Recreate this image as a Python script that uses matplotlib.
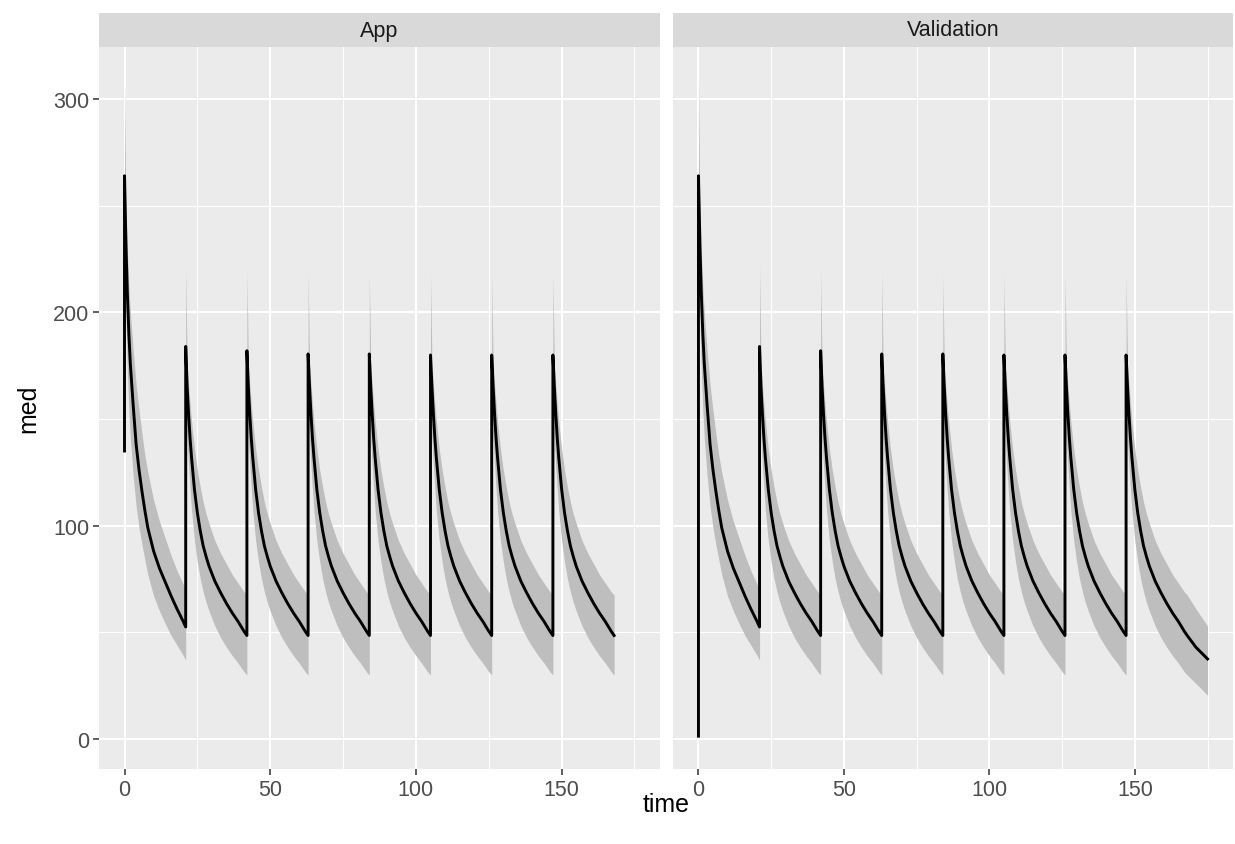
import matplotlib.pyplot as plt
from matplotlib.ticker import MultipleLocator

plt.rcParams['font.family'] = ['Liberation Sans', 'DejaVu Sans']

panels = ["App", "Validation"]

# hours after each dose at which the profile was read
tau = [0, 0.5, 1, 1.5, 2, 3, 4, 5, 6, 7, 8, 10, 12, 14, 16, 18, 20, 21]

# first dose (t = 0 .. 21)
med_first = [264, 232, 208, 190, 176, 156, 138, 126, 116, 107, 99, 88, 80, 73.5, 67, 61, 55.5, 52.5]
lo_first = [240, 200, 172, 154, 141, 123, 109, 99, 91, 84, 77, 67, 60, 54, 48.5, 44, 39.5, 37]
hi_first = [309, 250, 228, 212, 200, 182, 166, 154, 143, 133, 125, 112, 102, 94, 86, 79, 73, 70]

# later doses (same shape, peak replaced per dose)
med_later = [180, 165, 152, 141, 132, 117, 106, 97.5, 90.5, 85.5, 81, 74, 68.5, 63.5, 59, 55, 50.5, 48.5]
lo_later = [150, 140, 128, 117, 107, 93, 83, 75, 69, 64, 60, 53, 47.5, 43, 39, 35.5, 31.5, 30]
hi_later = [219, 176, 166, 157, 149, 136, 126, 118, 111, 105.5, 101, 93, 87, 82, 77, 73, 69, 67.5]

dose_times = [21, 42, 63, 84, 105, 126, 147]
peak_med = [184, 182, 180.5, 180.5, 180, 180, 180]
peak_hi = [222, 220, 219, 218, 218, 218, 218]

# value before the first dose
pre_dose = {"App": 135, "Validation": 1.3}

# Validation runs on after the last dose to t = 175
tail_tau = [24, 28]
tail_med = [43, 37.5]
tail_lo = [26, 20.5]
tail_hi = [61, 53]


def build(panel):
    t = [0]
    m = [pre_dose[panel]]
    lo = [pre_dose[panel]]
    hi = [pre_dose[panel]]
    t += tau
    m += med_first
    lo += lo_first
    hi += hi_first
    for i, d in enumerate(dose_times):
        t += [d + x for x in tau]
        m += [peak_med[i]] + med_later[1:]
        lo += lo_later
        hi += [peak_hi[i]] + hi_later[1:]
    if panel == "Validation":
        t += [dose_times[-1] + x for x in tail_tau]
        m += tail_med
        lo += tail_lo
        hi += tail_hi
    return t, m, lo, hi


series = {p: build(p) for p in panels}

all_t = [x for p in panels for x in series[p][0]]
all_y = [y for p in panels for k in (1, 2, 3) for y in series[p][k]]
xr = max(all_t) - min(all_t)
yr = max(all_y) - min(all_y)
xlim = (min(all_t) - 0.05 * xr, max(all_t) + 0.05 * xr)
ylim = (min(all_y) - 0.05 * yr, max(all_y) + 0.05 * yr)

W, H = 1235, 845
fig = plt.figure(figsize=(W / 100, H / 100), dpi=100)
boxes = {"App": (99, 660), "Validation": (673, 1233)}
top, bottom = 48, 770
strip_h = 34

for p in panels:
    x0, x1 = boxes[p]
    ax = fig.add_axes([x0 / W, 1 - bottom / H, (x1 - x0) / W, (bottom - top) / H])
    t, m, lo, hi = series[p]
    ax.set_facecolor('#EBEBEB')
    ax.fill_between(t, lo, hi, color='#BEBEBE', lw=0, zorder=2)
    ax.plot(t, m, color='black', lw=2.1, zorder=3)
    ax.set_xlim(xlim)
    ax.set_ylim(ylim)
    ax.xaxis.set_major_locator(MultipleLocator(50))
    ax.xaxis.set_minor_locator(MultipleLocator(25))
    ax.yaxis.set_major_locator(MultipleLocator(100))
    ax.yaxis.set_minor_locator(MultipleLocator(50))
    ax.grid(which='major', color='white', lw=1.5, zorder=1)
    ax.grid(which='minor', color='white', lw=0.75, zorder=1)
    ax.set_axisbelow(True)
    for s in ax.spines.values():
        s.set_visible(False)
    ax.tick_params(which='major', direction='out', length=4, width=1.1, color='#333333',
                   labelsize=15.5, labelcolor='#4D4D4D', pad=3)
    ax.tick_params(which='minor', length=0)
    if p != "App":
        ax.tick_params(axis='y', which='both', left=False, labelleft=False)

    sax = fig.add_axes([x0 / W, 1 - top / H, (x1 - x0) / W, strip_h / H])
    sax.set_facecolor('#D9D9D9')
    sax.set_xticks([])
    sax.set_yticks([])
    for s in sax.spines.values():
        s.set_visible(False)
    sax.text(0.5, 0.5, p, ha='center', va='center', fontsize=15.5, color='#1A1A1A',
             transform=sax.transAxes)

fig.text((99 + 1233) / 2 / W, 1 - 805 / H, "time", ha='center', va='center', fontsize=18)
fig.text(28 / W, 1 - (top + bottom) / 2 / H, "med", ha='center', va='center',
         rotation=90, fontsize=18)

fig.savefig("out.png", dpi=100)
